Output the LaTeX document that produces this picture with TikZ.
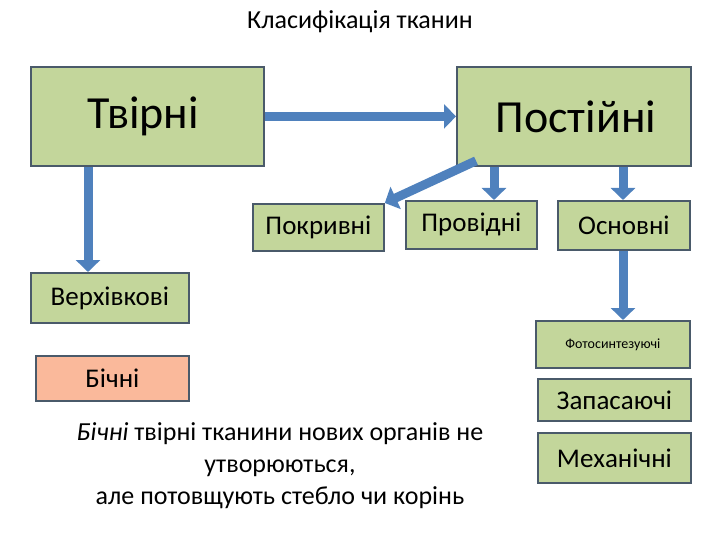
\documentclass[tikz,border=0pt]{standalone}
\usepackage{fontspec}
\setmainfont{Carlito}
\usetikzlibrary{arrows.meta,calc}
\definecolor{gfill}{HTML}{C3D69B}
\definecolor{bline}{HTML}{4A5A6A}
\definecolor{ofill}{HTML}{FAB99B}
\definecolor{arr}{HTML}{4F81BD}
\tikzset{
 box/.style={draw=bline,line width=1.8pt,fill=gfill,inner sep=0pt,anchor=north west},
 barr/.style={draw=arr,line width=9pt,-{Triangle[length=12pt,width=24pt]}}
}
\begin{document}
\begin{tikzpicture}[x=1pt,y=-1pt]
\useasboundingbox (0,0) rectangle (720,540);
\node (title) at (360,22) {\fontsize{26}{30}\selectfont Класифікація тканин};
\node[box,minimum width=233,minimum height=99] (tv) at (30,66) {\fontsize{46}{50}\selectfont\hspace*{-8pt}Твірні};
\node[box,minimum width=234,minimum height=99] (po) at (456,66) {\fontsize{46}{50}\selectfont\hspace*{4pt}Постійні};
\node[box,minimum width=131,minimum height=47] (pk) at (252,203) {\fontsize{27}{30}\selectfont Покривні};
\node[box,minimum width=131,minimum height=48] (pr) at (405,200) {\fontsize{27}{30}\selectfont Провідні};
\node[box,minimum width=132,minimum height=49] (os) at (557,200) {\fontsize{27}{30}\selectfont Основні};
\node[box,minimum width=158,minimum height=50] (vv) at (30,272) {\fontsize{27}{30}\selectfont Верхівкові};
\node[box,minimum width=154,minimum height=47] (fs) at (535,320) {\fontsize{14}{16}\selectfont Фотосинтезуючі};
\node[box,fill=ofill,minimum width=153,minimum height=45] (bc) at (35,355) {\fontsize{27}{30}\selectfont Бічні};
\node[box,minimum width=153,minimum height=42] (zp) at (537,378) {\fontsize{27}{30}\selectfont Запасаючі};
\node[box,minimum width=153,minimum height=50] (mh) at (537,432) {\fontsize{27}{30}\selectfont Механічні};
\node[align=center,font=\fontsize{26}{32}\selectfont] (txt) at (280,466) {\textit{Бічні} твірні тканини нових органів не\\утворюються,\\але потовщують стебло чи корінь};
\draw[barr] (tv.east) -- (po.west);
\draw[barr] (tv.south -| 88,0) -- (vv.north -| 88,0);
\draw[barr] ($(po.south west)+(20,-6)$) -- (pk.north east);
\draw[barr] (po.south -| 494,0) -- (pr.north -| 494,0);
\draw[barr] (po.south -| 623,0) -- (os.north -| 623,0);
\draw[barr] (os.south -| 623,0) -- (fs.north -| 623,0);
\end{tikzpicture}
\end{document}
